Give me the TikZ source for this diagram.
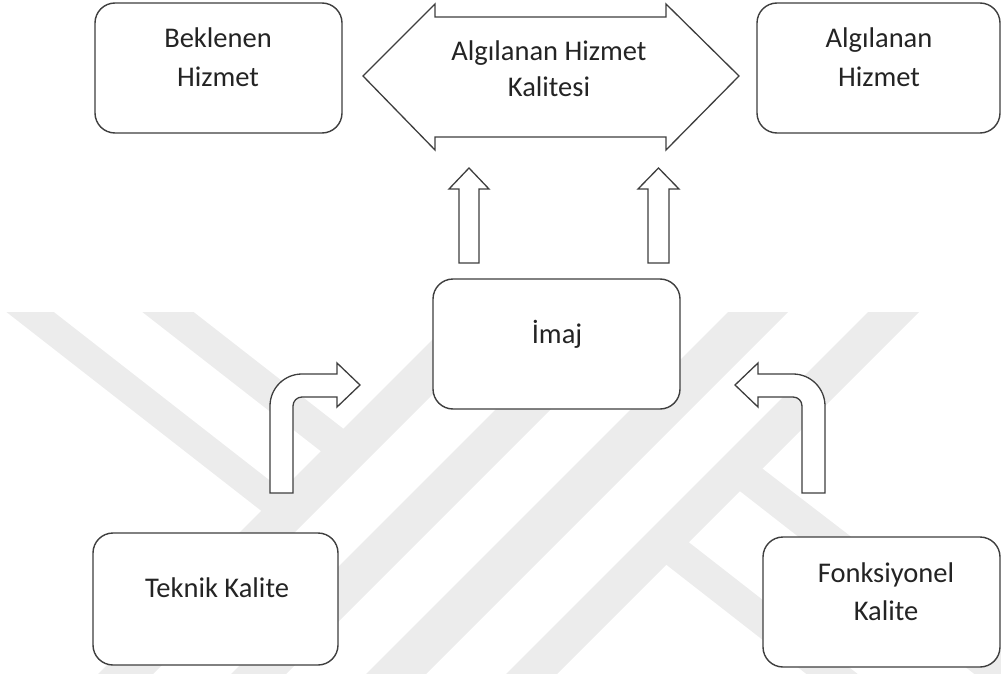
\documentclass[tikz,border=0pt]{standalone}
\usepackage{fontspec}
\setmainfont{Carlito}
\usetikzlibrary{calc}
\definecolor{wm}{RGB}{236,236,236}
\definecolor{ink}{RGB}{62,62,62}
\definecolor{txt}{RGB}{36,36,36}
\begin{document}
\begin{tikzpicture}[x=1pt,y=-1pt,
  box/.style={draw=ink, line width=1.4pt, fill=white, rounded corners=20pt,
              inner sep=0pt, minimum width=#1, minimum height=130pt},
  lbl/.style={font=\fontsize{28.5}{38}\selectfont, text=txt, inner sep=0pt, anchor=base},
  blockarrow/.style={draw=ink, line width=1.3pt, fill=white, line join=miter}]

% canvas
\path[use as bounding box] (0,0) rectangle (1001,674);

% faint striped emblem in the background
\begin{scope}
  \clip (0,312) rectangle (1001,674);
  \fill[wm] (460,312) -- (515,312) -- (153,674) -- (98,674) -- cycle;
  \fill[wm] (593,312) -- (648,312) -- (286,674) -- (231,674) -- cycle;
  \fill[wm] (728,312) -- (788,312) -- (426,674) -- (366,674) -- cycle;
  \fill[wm] (868,312) -- (919,312) -- (557,674) -- (506,674) -- cycle;
  \fill[wm] (6.4,312) -- (53.8,312) -- (286.5,493.5) -- (265.7,514.3) -- cycle;
  \fill[wm] (142.3,312) -- (193.6,312) -- (347.8,432.2) -- (325.3,454.7) -- cycle;
  \fill[wm] (756.2,463.8) -- (733.7,486.3) -- (1100,772) -- (1100,728) -- cycle;
  \fill[wm] (682.6,537.4) -- (660.1,559.9) -- (1100,903) -- (1100,863) -- cycle;
\end{scope}

% boxes
\node[box=247pt] (bek) at (218.5,68) {};
\node[box=243pt] (alg) at (878.5,68) {};
\node[box=247pt] (imaj) at (556.5,344) {};
\node[box=245pt, minimum height=132pt] (tek) at (215.5,599) {};
\node[box=237pt] (fon) at (881.5,602) {};

% box texts
\node[lbl] (bek1) at (218,48) {Beklenen};
\node[lbl] (bek2) at (218,87) {Hizmet};
\node[lbl] (alg1) at (879,48) {Algılanan};
\node[lbl] (alg2) at (879,87) {Hizmet};
\node[lbl] (imajt) at (557,343) {İmaj};
\node[lbl] (tekt) at (217,597) {Teknik Kalite};
\node[lbl] (fon1) at (886,582) {Fonksiyonel};
\node[lbl] (fon2) at (886,620) {Kalite};

% two-headed block arrow between the top boxes
\coordinate (ahq) at (551,77);
\draw[blockarrow] (363,76) -- (435,4) -- (435,17) -- (666,17) -- (666,4)
  -- (739,76) -- (666,150) -- (666,137) -- (435,137) -- (435,150) -- cycle;
\node[lbl] (ahq1) at (549,61) {Algılanan Hizmet};
\node[lbl] (ahq2) at (549,97) {Kalitesi};

% upward block arrows from the image box
\draw[blockarrow] (469,168) -- (489,189) -- (479,189) -- (479,263) -- (459,263)
  -- (459,189) -- (449,189) -- cycle;
\draw[blockarrow] (658.5,168) -- (679,189) -- (669,189) -- (669,263) -- (648,263)
  -- (648,189) -- (638,189) -- cycle;

% bent block arrows towards the image box
\draw[blockarrow] (270,493) -- (270,406) .. controls (270,388.3) and (284.3,374) .. (302,374)
  -- (337,374) -- (337,363) -- (360,385) -- (337,407) -- (337,397) -- (302,397)
  .. controls (297,397) and (293,401) .. (293,406) -- (293,493) -- cycle;
\draw[blockarrow] (825,493) -- (825,406) .. controls (825,388.3) and (810.7,374) .. (793,374)
  -- (758,374) -- (758,363) -- (735,385) -- (758,407) -- (758,397) -- (793,397)
  .. controls (798,397) and (802,401) .. (802,406) -- (802,493) -- cycle;
\end{tikzpicture}
\end{document}
